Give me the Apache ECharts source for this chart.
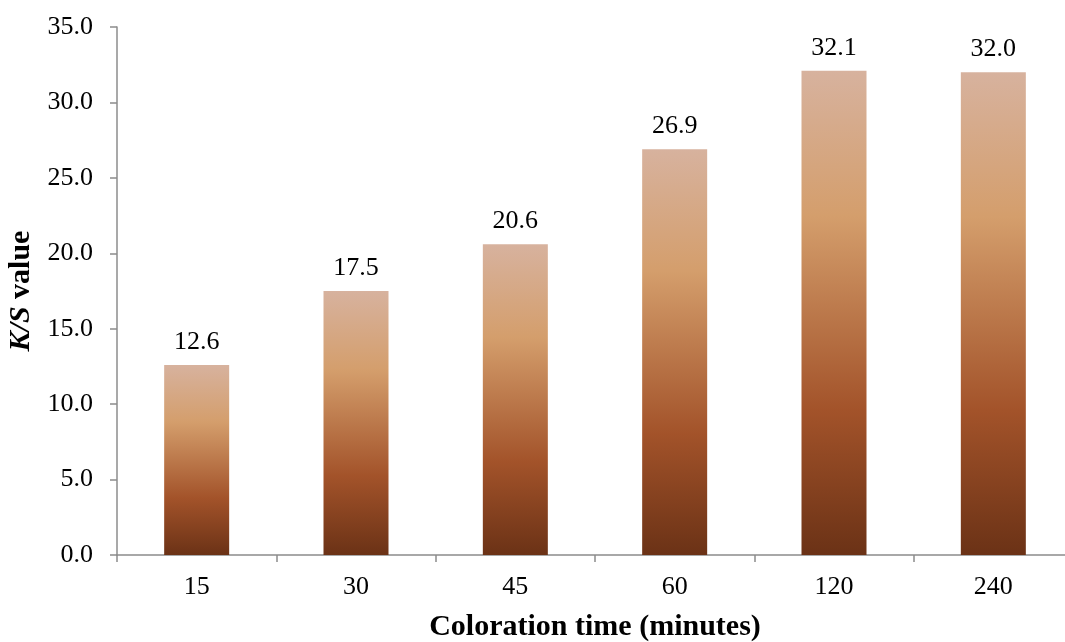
<!DOCTYPE html>
<html>
<head>
<meta charset="utf-8">
<script src="https://cdn.jsdelivr.net/npm/echarts@6/dist/echarts.min.js"></script>
<style>
  html, body { margin: 0; padding: 0; background: #fff; }
  #chart { width: 1065px; height: 642px; }
</style>
</head>
<body>
<div id="chart"></div>
<script>
  // coloration time categories and K/S values
  var categories = ['15', '30', '45', '60', '120', '240'];
  var ksValues = [12.6, 17.5, 20.6, 26.9, 32.1, 32.0];
  var yTicks = { min: 0, max: 35, interval: 5 };

  var font = '"Liberation Serif", "Times New Roman", serif';
  var axisGray = '#8c8c8c';

  var chart = echarts.init(document.getElementById('chart'));

  var barColor = new echarts.graphic.LinearGradient(0, 0, 0, 1, [
    { offset: 0, color: '#d7b29e' },
    { offset: 0.3, color: '#d49e6c' },
    { offset: 0.7, color: '#a3532a' },
    { offset: 1, color: '#6b3216' }
  ]);

  chart.setOption({
    animation: false,
    grid: { left: 117, right: -8, top: 27, bottom: 87, outerBoundsMode: 'none' },
    xAxis: {
      type: 'category',
      data: categories,
      name: 'Coloration time (minutes)',
      nameLocation: 'middle',
      nameGap: 57,
      nameTextStyle: { fontFamily: font, fontSize: 30, fontWeight: 'bold', color: '#000' },
      axisLine: { lineStyle: { color: axisGray, width: 1.5 } },
      axisTick: { show: true, alignWithLabel: false, length: 7, lineStyle: { color: axisGray, width: 1.5 } },
      axisLabel: { fontFamily: font, fontSize: 26, color: '#000', margin: 19 }
    },
    yAxis: {
      type: 'value',
      min: yTicks.min,
      max: yTicks.max,
      interval: yTicks.interval,
      name: '{i|K/S}{b| value}',
      nameLocation: 'middle',
      nameGap: 79,
      nameRotate: 90,
      nameTextStyle: {
        rich: {
          i: { fontFamily: font, fontSize: 30, fontWeight: 'bold', fontStyle: 'italic', color: '#000' },
          b: { fontFamily: font, fontSize: 30, fontWeight: 'bold', color: '#000' }
        }
      },
      splitLine: { show: false },
      axisLine: { show: true, lineStyle: { color: axisGray, width: 1.5 } },
      axisTick: { show: true, length: 7, lineStyle: { color: axisGray, width: 1.5 } },
      axisLabel: {
        fontFamily: font, fontSize: 26, color: '#000', margin: 24,
        formatter: function (v) { return v.toFixed(1); }
      }
    },
    series: [{
      type: 'bar',
      data: ksValues,
      barWidth: 65,
      itemStyle: { color: barColor },
      label: {
        show: true,
        position: 'top',
        distance: 10,
        fontFamily: font,
        fontSize: 26,
        color: '#000',
        formatter: function (p) { return p.value.toFixed(1); }
      }
    }]
  });
</script>
</body>
</html>
